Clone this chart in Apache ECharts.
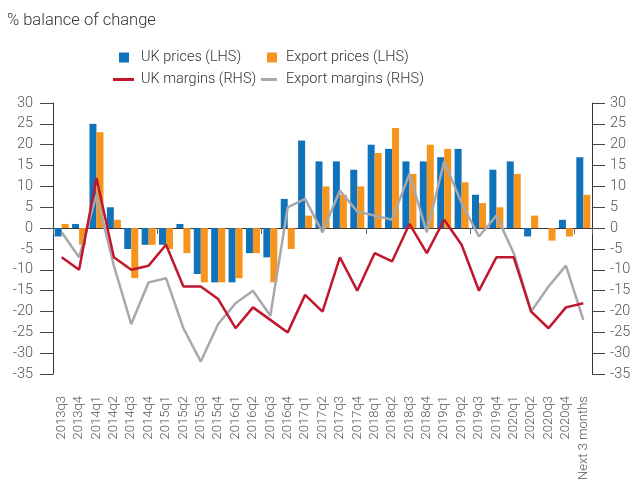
<!DOCTYPE html>
<html><head><meta charset="utf-8">
<script src="https://cdn.jsdelivr.net/npm/echarts@6/dist/echarts.min.js"></script>
<style>html,body{margin:0;padding:0;background:#fff}#c{width:635px;height:483px}</style>
</head><body><div id="c"></div>
<script>
const categories = ['2013q3','2013q4','2014q1','2014q2','2014q3','2014q4','2015q1','2015q2','2015q3','2015q4','2016q1','2016q2','2016q3','2016q4','2017q1','2017q2','2017q3','2017q4','2018q1','2018q2','2018q3','2018q4','2019q1','2019q2','2019q3','2019q4','2020q1','2020q2','2020q3','2020q4','Next 3 months'];
const ukPrices = [-2,1,25,5,-5,-4,-4,1,-11,-13,-13,-6,-7,7,21,16,16,14,20,19,16,16,17,19,8,14,16,-2,0,2,17];
const exportPrices = [1,-4,23,2,-12,-4,-5,-6,-13,-13,-12,-6,-13,-5,3,10,8,10,18,24,13,20,19,11,6,5,13,3,-3,-2,8];
const ukMargins = [-7,-10,12,-7,-10,-9,-4,-14,-14,-17,-24,-19,-22,-25,-16,-20,-7,-15,-6,-8,1,-6,2,-4,-15,-7,-7,-20,-24,-19,-18];
const exportMargins = [-1,-7,8,-9,-23,-13,-12,-24,-32,-23,-18,-15,-21,5,7,-1,9,4,3,2,13,-1,16,6,-2,3,-6,-20,-14,-9,-22];
const yTicks = {min:-35, max:30, interval:5};

const FONT = 'Roboto';
const FW = 300;
const chart = echarts.init(document.getElementById('c'), null, {renderer:'canvas'});
const legendBase = (left, top, name, w, h, pad) => ({
  left, top, data:[{name, icon:'rect'}], itemWidth:w, itemHeight:h, itemGap:0,
  textStyle:{fontFamily:FONT, fontWeight:FW, fontSize:14.5, color:'#333', padding:[0,0,0,pad]}, selectedMode:false
});
chart.setOption({
  animation:false,
  textStyle:{fontFamily:FONT},
  title:{text:'% balance of change', left:2, top:7, textStyle:{fontFamily:FONT, fontSize:16.5, fontWeight:FW, color:'#333'}},
  legend:[
    legendBase(114, 45, 'UK prices (LHS)', 10, 10, 7),
    legendBase(262, 45, 'Export prices (LHS)', 10, 10, 4),
    legendBase(108, 67, 'UK margins (RHS)', 21, 3, 2),
    legendBase(256, 67, 'Export margins (RHS)', 16, 3, 4)
  ],
  grid:{left:53, right:43, top:103, bottom:108},
  xAxis:[
    {type:'category', data:categories, boundaryGap:true,
     axisLine:{onZero:true, lineStyle:{color:'#333', width:1}},
     axisTick:{show:true, length:6, lineStyle:{color:'#666'}}, axisLabel:{show:false}},
    {type:'category', data:categories, boundaryGap:true, position:'bottom',
     axisLine:{show:false, onZero:false}, axisTick:{show:false},
     axisLabel:{show:true, interval:0, rotate:90, margin:22, fontFamily:FONT, fontWeight:FW, fontSize:13, color:'#555'}}
  ],
  yAxis:[
    {type:'value', min:yTicks.min, max:yTicks.max, interval:yTicks.interval, position:'left',
     axisLine:{show:true, onZero:false, lineStyle:{color:'#333'}},
     axisTick:{show:true, length:13, lineStyle:{color:'#444'}},
     axisLabel:{margin:20, fontFamily:FONT, fontWeight:FW, fontSize:14.5, color:'#555'}, splitLine:{show:false}},
    {type:'value', min:yTicks.min, max:yTicks.max, interval:yTicks.interval, position:'right',
     axisLine:{show:true, onZero:false, lineStyle:{color:'#333'}},
     axisTick:{show:true, length:13, lineStyle:{color:'#444'}},
     axisLabel:{margin:18, fontFamily:FONT, fontWeight:FW, fontSize:14.5, color:'#555'}, splitLine:{show:false}}
  ],
  series:[
    {name:'UK prices (LHS)', type:'bar', data:ukPrices, xAxisIndex:0, yAxisIndex:0, barWidth:7, barGap:'0%', itemStyle:{color:'#1072ba'}},
    {name:'Export prices (LHS)', type:'bar', data:exportPrices, xAxisIndex:0, yAxisIndex:0, barWidth:7, barGap:'0%', itemStyle:{color:'#f7941d'}},
    {name:'UK margins (RHS)', type:'line', data:ukMargins, xAxisIndex:0, yAxisIndex:1, showSymbol:false, symbol:'none', lineStyle:{color:'#c1172c', width:2.5}, itemStyle:{color:'#c1172c'}, z:4},
    {name:'Export margins (RHS)', type:'line', data:exportMargins, xAxisIndex:0, yAxisIndex:1, showSymbol:false, symbol:'none', lineStyle:{color:'#a7a9ac', width:2.5}, itemStyle:{color:'#a7a9ac'}, z:3}
  ]
});
</script></body></html>
